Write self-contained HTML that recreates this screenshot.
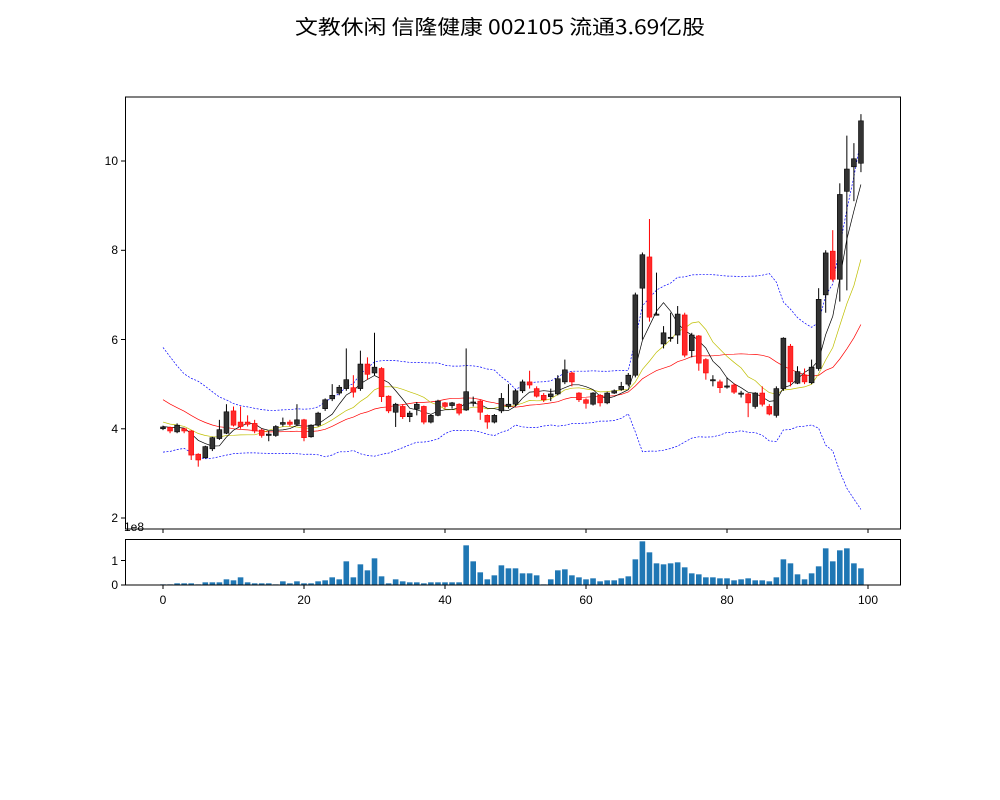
<!DOCTYPE html>
<html><head><meta charset="utf-8">
<style>
html,body{margin:0;padding:0;background:#fff;}
svg{display:block;}
text{font-family:"Liberation Sans","WenQuanYi Zen Hei","Noto Sans CJK SC",sans-serif;font-size:12px;fill:#000;}
</style></head><body>
<svg id="s" width="1000" height="800" viewBox="0 0 1000 800" xmlns="http://www.w3.org/2000/svg">
<rect width="1000" height="800" fill="#fff"/>
<text x="295" y="34" textLength="410" lengthAdjust="spacingAndGlyphs" style="font-size:20px;font-family:'WenQuanYi Zen Hei','Noto Sans CJK SC',sans-serif">文教休闲 信隆健康 002105 流通3.69亿股</text>
<g id="lines"></g>
<g id="candles"></g>
<g id="vol"></g>
<rect x="125.5" y="97" width="775" height="432" fill="none" stroke="#000" stroke-width="1"/>
<rect x="125.5" y="539.5" width="775" height="45.5" fill="none" stroke="#000" stroke-width="1"/>
<g stroke="#000" stroke-width="1">
<line x1="121" x2="125" y1="161" y2="161"/><line x1="121" x2="125" y1="250.3" y2="250.3"/>
<line x1="121" x2="125" y1="339.5" y2="339.5"/><line x1="121" x2="125" y1="428.8" y2="428.8"/>
<line x1="121" x2="125" y1="518" y2="518"/>
<line x1="121" x2="125" y1="585" y2="585"/><line x1="121" x2="125" y1="560.5" y2="560.5"/>
<line x1="163" x2="163" y1="529" y2="533"/><line x1="304" x2="304" y1="529" y2="533"/>
<line x1="445" x2="445" y1="529" y2="533"/><line x1="586" x2="586" y1="529" y2="533"/>
<line x1="727" x2="727" y1="529" y2="533"/><line x1="868" x2="868" y1="529" y2="533"/>
<line x1="163" x2="163" y1="585" y2="589"/><line x1="304" x2="304" y1="585" y2="589"/>
<line x1="445" x2="445" y1="585" y2="589"/><line x1="586" x2="586" y1="585" y2="589"/>
<line x1="727" x2="727" y1="585" y2="589"/><line x1="868" x2="868" y1="585" y2="589"/>
</g>
<g text-anchor="end">
<text x="118" y="165">10</text><text x="118" y="254">8</text><text x="118" y="344">6</text>
<text x="118" y="433">4</text><text x="118" y="522">2</text>
<text x="118" y="589">0</text><text x="118" y="565">1</text>
</g>
<text x="124" y="531">1e8</text>
<g text-anchor="middle">
<text x="163" y="604">0</text><text x="304" y="604">20</text><text x="445" y="604">40</text>
<text x="586" y="604">60</text><text x="727" y="604">80</text><text x="868" y="604">100</text>
</g>
</svg>
<script>
var D=[[4.0,4.04,4.07,3.97],[4.03,3.95,4.05,3.9],[3.93,4.08,4.12,3.9],[4.0,3.95,4.02,3.9],[3.95,3.41,3.97,3.3],
[3.43,3.3,3.45,3.15],[3.35,3.6,3.62,3.33],[3.55,3.8,3.82,3.5],[3.78,3.98,4.2,3.75],[3.9,4.38,4.55,3.88],
[4.4,4.08,4.5,4.05],[4.15,4.05,4.5,4.0],[4.15,4.1,4.3,4.05],[4.12,3.95,4.2,3.9],[3.97,3.85,4.0,3.8],
[3.85,3.88,3.95,3.72],[3.85,4.05,4.08,3.82],[4.1,4.14,4.25,4.05],[4.15,4.1,4.2,4.05],[4.1,4.2,4.55,4.07],
[4.2,3.8,4.22,3.72],[3.82,4.08,4.1,3.8],[4.08,4.35,4.38,4.05],[4.45,4.65,4.68,4.4],[4.67,4.75,5.0,4.62],
[4.8,4.93,4.98,4.75],[4.9,5.1,5.8,4.85],[4.92,4.82,5.2,4.7],[4.9,5.45,5.75,4.85],[5.45,5.22,5.6,5.1],
[5.25,5.38,6.15,5.2],[5.35,4.72,5.38,4.6],[4.73,4.4,4.75,4.35],[4.37,4.55,4.58,4.04],[4.5,4.27,4.55,4.22],
[4.27,4.35,4.4,4.15],[4.44,4.55,4.6,4.3],[4.5,4.15,4.52,4.1],[4.15,4.3,4.33,4.12],[4.3,4.62,4.65,4.28],
[4.58,4.5,4.6,4.45],[4.52,4.58,4.6,4.45],[4.55,4.35,4.57,4.3],[4.42,4.83,5.8,4.4],[4.6,4.6,4.72,4.5],
[4.62,4.37,4.65,4.2],[4.3,4.15,4.32,4.0],[4.15,4.3,4.33,4.12],[4.4,4.68,4.8,4.35],[4.5,4.55,5.0,4.45],
[4.55,4.85,4.88,4.5],[4.85,5.05,5.1,4.8],[5.05,4.98,5.3,4.9],[4.9,4.73,4.95,4.7],[4.75,4.65,4.8,4.6],
[4.72,4.78,4.9,4.62],[4.78,5.12,5.2,4.75],[5.05,5.32,5.55,5.0],[5.25,5.05,5.28,4.95],[4.8,4.65,4.82,4.6],
[4.65,4.57,4.68,4.45],[4.55,4.8,4.82,4.52],[4.75,4.58,4.78,4.5],[4.58,4.8,4.83,4.55],[4.8,4.85,4.88,4.78],
[4.88,4.95,5.05,4.85],[5.0,5.2,5.25,4.95],[5.2,7.0,7.05,5.15],[7.15,7.9,7.95,6.0],[7.85,6.5,8.7,6.4],
[6.57,6.57,7.5,6.55],[5.9,6.15,6.3,5.8],[6.05,6.05,6.6,5.95],[6.1,6.57,6.75,5.9],[6.55,5.65,6.6,5.6],
[5.75,6.1,6.15,5.6],[6.08,5.47,6.1,5.3],[5.55,5.25,5.58,5.1],[5.1,5.1,5.2,4.95],[5.05,4.92,5.1,4.8],
[4.96,4.96,5.15,4.9],[4.98,4.82,5.02,4.78],[4.8,4.8,4.85,4.7],[4.78,4.58,4.8,4.26],[4.5,4.8,4.82,4.45],
[4.8,4.55,4.95,4.5],[4.5,4.33,4.55,4.3],[4.3,4.9,4.95,4.25],[4.9,6.03,6.05,4.85],[5.85,5.05,5.9,4.95],
[5.02,5.28,5.4,5.0],[5.2,5.05,5.35,5.0],[5.03,5.38,5.55,5.0],[5.35,6.9,7.15,5.3],[7.0,7.94,8.0,6.6],
[7.98,7.35,8.45,7.3],[7.35,9.25,9.5,6.85],[9.32,9.82,10.57,7.1],[9.87,10.05,10.4,9.1],[9.95,10.9,11.05,9.75]];
var VT=[162,162,159,159,159,162,156,156,156,147,150,141,156,159,159,159,162,153,159,153,159,159,153,150,141,147,93,141,102,120,84,138,159,147,153,156,156,159,156,156,156,156,156,45,93,126,147,135,105,114,114,129,129,135,162,147,120,117,135,141,147,144,153,150,150,144,138,87,33,66,99,102,99,96,111,129,132,141,141,144,144,150,147,144,150,150,153,141,87,99,132,147,129,108,54,93,60,54,99,114];
var pre=[5.9,5.7,5.5,5.3,5.1,5.0,4.9,4.8,4.7,4.6,4.4,4.3,4.25,4.2,4.1,4.05,4.08,4.03,4.05];
function X(i){return 163+7.05*i;}
function Y(v){return 518-(v-2)*44.625;}
var NS="http://www.w3.org/2000/svg";
function el(p,t,a){var e=document.createElementNS(NS,t);for(var k in a)e.setAttribute(k,a[k]);p.appendChild(e);return e;}
var closes=pre.concat(D.map(function(d){return d[1];}));
var P=pre.length;
function ma(n,i){var s=0;for(var k=0;k<n;k++)s+=closes[P+i-k];return s/n;}
function sd(i){var m=ma(20,i),s=0;for(var k=0;k<20;k++){var d=closes[P+i-k]-m;s+=d*d;}return Math.sqrt(s/20);}
var L=document.getElementById('lines');
function line(f,col,w,dash){var pts=[];for(var i=0;i<100;i++)pts.push(X(i).toFixed(1)+','+Y(f(i)).toFixed(1));
var a={points:pts.join(' '),fill:'none',stroke:col,'stroke-width':w};if(dash)a['stroke-dasharray']=dash;el(L,'polyline',a);}
line(function(i){return ma(20,i)+2*sd(i);},'#0000ff',0.7,'2,1.5');
line(function(i){return ma(20,i)-2*sd(i);},'#0000ff',0.7,'2,1.5');
line(function(i){return ma(20,i);},'#ff0000',0.7);
line(function(i){return ma(10,i);},'#bfbf00',0.7);
line(function(i){return ma(5,i);},'#000000',0.7);
var C=document.getElementById('candles');
D.forEach(function(d,i){var up=d[1]>=d[0];var col=up?'#000':'#ff0000';var fill=up?'#333':'#ff2a2a';
var x=X(i);el(C,'line',{x1:x,x2:x,y1:Y(d[2]),y2:Y(d[3]),stroke:col,'stroke-width':1});
var t=Y(Math.max(d[0],d[1])),b=Y(Math.min(d[0],d[1]));if(b-t<1.2){b=t+1.2;}
el(C,'rect',{x:x-2.45,y:t,width:4.9,height:b-t,fill:fill,stroke:col,'stroke-width':0.6});});
var V=document.getElementById('vol');
VT.forEach(function(t,i){var h=(164-t)/3;el(V,'rect',{x:X(i)-2.8,y:585-h,width:5.6,height:h,fill:'#1f77b4'});});
</script>
</body></html>
